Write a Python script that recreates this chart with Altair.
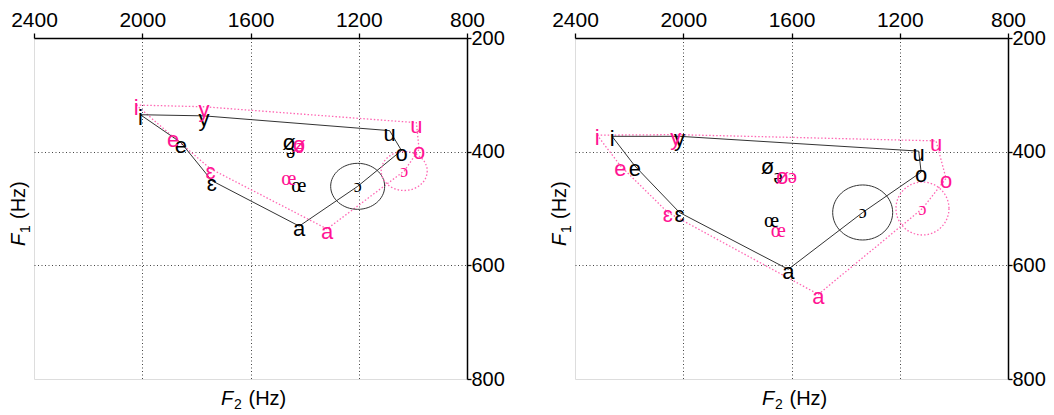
import altair as alt
import pandas as pd

# ---------------- data ----------------
VOWELS = ["i", "y", "u", "o", "ɔ", "a", "ɛ", "e", "ø", "ə", "œ"]
POLY = ["i", "y", "u", "o", "ɔ", "a", "ɛ", "e", "i"]

# left panel
L_BLACK_F2 = [2007, 1772, 1086, 1042, 1204, 1420, 1743, 1857, 1458, 1452, 1421]
L_BLACK_F1 = [335, 337, 363, 398, 461, 531, 451, 384, 379, 396, 456]
L_PINK_F2 = [2022, 1772, 987, 977, 1032, 1317, 1748, 1886, 1421, 1418, 1458]
L_PINK_F1 = [318, 321, 349, 396, 434, 536, 430, 374, 383, 386, 443]

# right panel
R_BLACK_F2 = [2263, 2014, 1130, 1121, 1337, 1612, 2014, 2179, 1689, 1649, 1674]
R_BLACK_F1 = [373, 373, 399, 436, 507, 607, 507, 425, 421, 440, 516]
R_PINK_F2 = [2318, 2028, 1066, 1029, 1116, 1501, 2057, 2232, 1634, 1597, 1649]
R_PINK_F1 = [371, 370, 381, 447, 500, 651, 507, 425, 440, 440, 534]

F2_TICKS = [2400, 2000, 1600, 1200, 800]
F1_TICKS = [200, 400, 600, 800]

SERIES = [
    ("L", "black", L_BLACK_F2, L_BLACK_F1),
    ("L", "pink", L_PINK_F2, L_PINK_F1),
    ("R", "black", R_BLACK_F2, R_BLACK_F1),
    ("R", "pink", R_PINK_F2, R_PINK_F1),
]

pt_rows, poly_rows = [], []
for panel, group, f2s, f1s in SERIES:
    lookup = {}
    for v, f2, f1 in zip(VOWELS, f2s, f1s):
        pt_rows.append(dict(panel=panel, group=group, vowel=v, F2=f2, F1=f1))
        lookup[v] = (f2, f1)
    for k, v in enumerate(POLY):
        poly_rows.append(dict(panel=panel, group=group, vowel=v, order=k,
                              F2=lookup[v][0], F1=lookup[v][1]))
pts = pd.DataFrame(pt_rows)
poly = pd.DataFrame(poly_rows)

# ---------------- styling ----------------
SANS = "Liberation Sans"
SERIF = "Liberation Serif"
BLACK_TXT = "#000000"
PINK_TXT = "#ff1493"
BLACK_LINE = "#333333"
PINK_LINE = "#ff66b3"
W, H = 433, 341


def ellipse_path(k):
    c = 0.5523
    return (f"M 1 0 C 1 {c*k:.4f} {c:.4f} {k:.4f} 0 {k:.4f} "
            f"C {-c:.4f} {k:.4f} -1 {c*k:.4f} -1 0 "
            f"C -1 {-c*k:.4f} {-c:.4f} {-k:.4f} 0 {-k:.4f} "
            f"C {c:.4f} {-k:.4f} 1 {-c*k:.4f} 1 0 Z")


edge_test = "datum.value == 2400 || datum.value == 800 || datum.value == 200"

xaxis = alt.Axis(orient="top", values=F2_TICKS, title=None, grid=True, format="d",
                 gridDash=[1, 2.5], gridColor="#444", gridWidth=1,
                 gridOpacity=alt.condition(edge_test, alt.value(0), alt.value(1)),
                 tickSize=5, tickColor="black", tickWidth=1.3,
                 domainColor="black", domainWidth=1.5,
                 labelFont=SANS, labelFontSize=21, labelColor="black",
                 labelPadding=3, labelFlush=False, labelOverlap=False)
yaxis = alt.Axis(orient="right", values=F1_TICKS, title=None, grid=True, format="d",
                 gridDash=[1, 2.5], gridColor="#444", gridWidth=1,
                 gridOpacity=alt.condition(edge_test, alt.value(0), alt.value(1)),
                 tickSize=4, tickColor="black", tickWidth=1.3,
                 domainColor="black", domainWidth=1.5,
                 labelFont=SANS, labelFontSize=20, labelColor="black",
                 labelPadding=0, labelFlush=False, labelOverlap=False)

X = alt.X("F2:Q", scale=alt.Scale(domain=[800, 2400], reverse=True, nice=False, zero=False), axis=xaxis)
Y = alt.Y("F1:Q", scale=alt.Scale(domain=[200, 800], reverse=True, nice=False, zero=False), axis=yaxis)


def make_panel(p, black_ell, pink_ell):
    P = pts[pts.panel == p]
    L = poly[poly.panel == p]
    layers = []
    layers.append(alt.Chart(L[L.group == "pink"]).mark_line(
        color=PINK_LINE, strokeWidth=1.3, strokeDash=[1.5, 2]).encode(x=X, y=Y, order="order:Q"))
    layers.append(alt.Chart(L[L.group == "black"]).mark_line(
        color=BLACK_LINE, strokeWidth=1).encode(x=X, y=Y, order="order:Q"))
    # ellipses around the open-o vowel
    bk, bs = black_ell
    pk, ps = pink_ell
    layers.append(alt.Chart(P[(P.group == "black") & (P.vowel == "ɔ")]).mark_point(
        shape=ellipse_path(bk), size=bs, filled=False, color=BLACK_LINE,
        strokeWidth=1, opacity=1).encode(x=X, y=Y))
    layers.append(alt.Chart(P[(P.group == "pink") & (P.vowel == "ɔ")]).mark_point(
        shape=ellipse_path(pk), size=ps, filled=False, color=PINK_LINE,
        strokeWidth=1.3, strokeDash=[1.5, 2], opacity=1).encode(x=X, y=Y))
    # labels
    groups = [("black", BLACK_TXT), ("pink", PINK_TXT)]
    for g, col in groups:
        G = P[P.group == g]
        sans = G[G.vowel.isin(["i", "y", "u", "o", "a", "ɛ", "e", "ø"])]
        serif = G[G.vowel.isin(["ə", "œ"])]
        oo = G[G.vowel == "ɔ"]
        layers.append(alt.Chart(serif).mark_text(font=SERIF, fontSize=21, color=col, dy=3,
                                                 baseline="middle").encode(x=X, y=Y, text="vowel:N"))
        layers.append(alt.Chart(sans).mark_text(font=SANS, fontSize=22, color=col, dy=3,
                                                baseline="middle").encode(x=X, y=Y, text="vowel:N"))
        layers.append(alt.Chart(oo).mark_text(font=SERIF, fontSize=18, color=col, dy=1,
                                              baseline="middle").encode(x=X, y=Y, text="vowel:N"))
    # axis titles: F2 (Hz) below, F1 (Hz) on the left
    one = alt.Chart(pd.DataFrame({"k": [0]}))
    layers.append(one.mark_text(text="F", font=SANS, fontSize=20, fontStyle="italic", align="left",
                                baseline="alphabetic", color="black").encode(x=alt.value(187), y=alt.value(367)))
    layers.append(one.mark_text(text="2", font=SANS, fontSize=14, align="left",
                                baseline="alphabetic", color="black").encode(x=alt.value(200), y=alt.value(371)))
    layers.append(one.mark_text(text="(Hz)", font=SANS, fontSize=20, align="left",
                                baseline="alphabetic", color="black").encode(x=alt.value(214.5), y=alt.value(367)))
    layers.append(one.mark_text(text="F", font=SANS, fontSize=20, fontStyle="italic", align="left", angle=270,
                                baseline="alphabetic", color="black").encode(x=alt.value(-9), y=alt.value(208)))
    layers.append(one.mark_text(text="1", font=SANS, fontSize=14, align="left", angle=270,
                                baseline="alphabetic", color="black").encode(x=alt.value(-4), y=alt.value(195)))
    layers.append(one.mark_text(text="(Hz)", font=SANS, fontSize=20, align="left", angle=270,
                                baseline="alphabetic", color="black").encode(x=alt.value(-9), y=alt.value(181)))
    return alt.layer(*layers).properties(width=W, height=H)


left = make_panel("L", (0.852, 2916), (0.848, 2116))
right = make_panel("R", (0.917, 3600), (1.0, 2809))

chart = alt.hconcat(left, right, spacing=44).properties(
    padding={"left": 0, "top": 0, "right": 0, "bottom": 0}
).configure_view(stroke="black", strokeWidth=1.5).configure(background="white")

chart.save("out.html", embed_options={"renderer": "svg", "actions": False})
